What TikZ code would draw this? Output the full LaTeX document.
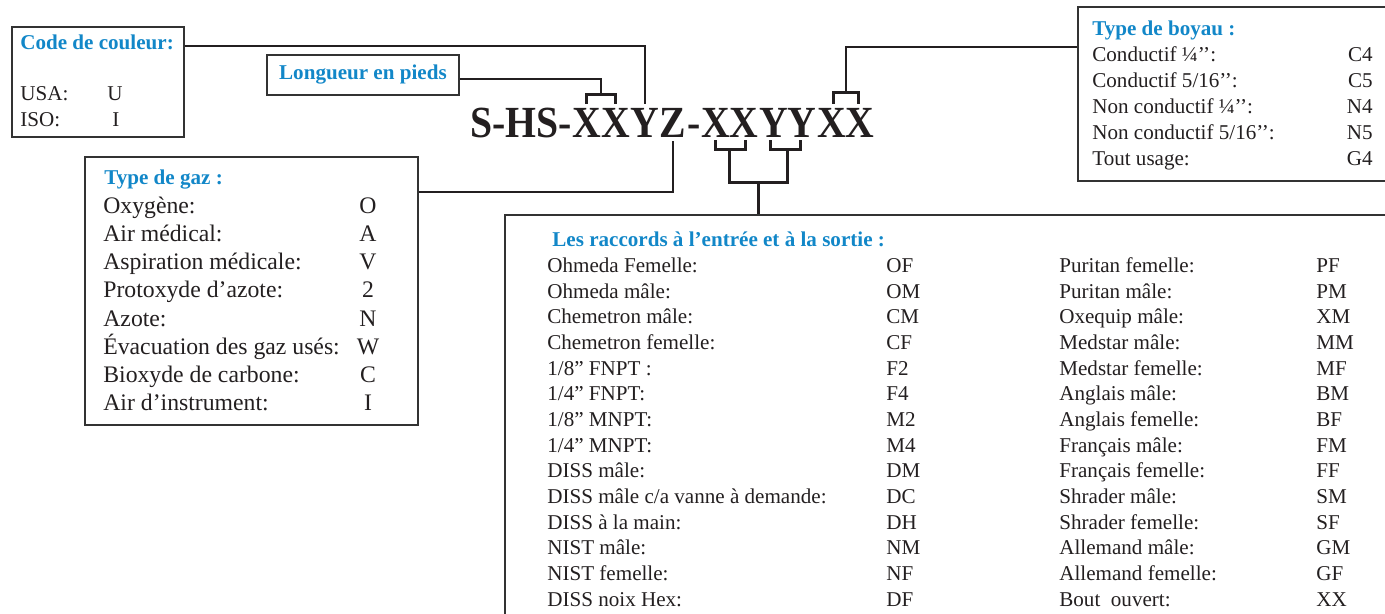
\documentclass[tikz,border=0pt]{standalone}
\usepackage{fontspec}
\setmainfont{Liberation Serif}
\usetikzlibrary{calc,positioning}
\definecolor{hdblue}{HTML}{1287C8}
\definecolor{boxgrey}{HTML}{333333}
\definecolor{inkblack}{HTML}{231F20}
\newcommand{\grandcode}[1]{\scalebox{1}[1.12]{#1}}
\tikzset{
  cadre/.style={draw=boxgrey, line width=1.1pt, anchor=north west, inner sep=0pt},
  titre/.style={font=\fontsize{12}{14}\selectfont\bfseries, text=hdblue, anchor=base west, inner sep=0pt},
  txt/.style={font=\fontsize{12}{14}\selectfont, text=inkblack, anchor=base west, inner sep=0pt},
  gaztxt/.style={txt, font=\fontsize{13.5}{16}\selectfont},
  codepart/.style={font=\fontsize{22.6}{26}\selectfont\bfseries, text=inkblack, anchor=base west, inner sep=0pt},
  conn/.style={line width=1.1pt, draw=inkblack},
  brk/.style={line width=1.6pt, draw=inkblack},
}
\begin{document}
\begin{tikzpicture}[x=0.02cm, y=-0.02cm]
  \useasboundingbox (0,0) rectangle (1385,613);
  \clip (0,0) rectangle (1385,613);

  % Boxes
  \node[cadre, minimum width=3.44cm, minimum height=2.2cm] (couleur) at (11,26) {};
  \node[cadre, minimum width=3.84cm, minimum height=0.8cm,
        font=\fontsize{12}{14}\selectfont\bfseries, text=hdblue] (longueur) at (266,54) {Longueur en pieds};
  \node[cadre, minimum width=6.66cm, minimum height=5.36cm] (gaz) at (84,156) {};
  \node[cadre, minimum width=6.6cm, minimum height=3.48cm] (boyau) at (1077,6) {};
  \node[cadre, minimum width=18cm, minimum height=9cm] (raccords) at (504,214) {};

  % Part number
  \node[codepart] (c0) at (470,137) {\grandcode{S-HS-}};
  \node[codepart] (x1) at (c0.base east) {\grandcode{XX}};
  \node[codepart] (y1) at (x1.base east) {\grandcode{Y}};
  \node[codepart] (z1) at (y1.base east) {\grandcode{Z}};
  \node[codepart] (c1) at (z1.base east) {\grandcode{-}};
  \node[codepart] (x2) at (c1.base east) {\grandcode{XX}};
  \node[codepart] (y2) at (x2.base east) {\grandcode{YY}};
  \node[codepart] (x3) at (y2.base east) {\grandcode{XX}};

  % Code de couleur -> Y
  \draw[conn] ($(couleur.north east)+(0,20)$) -| ($(y1.north)+(0,-4)$);
  % Longueur -> XX
  \draw[brk] ($(x1.north west)!0.25!(x1.north east)+(0,-4)$) |- ($(x1.north)+(0,-13)$)
             -| ($(x1.north west)!0.75!(x1.north east)+(0,-4)$);
  \draw[conn] ($(longueur.east)+(0,4)$) -| ($(x1.north)+(0,-13)$);
  % Z -> type de gaz
  \draw[conn] ($(z1.south)+(0,4)$) |- ($(gaz.north east)+(0,36)$);
  % last XX -> type de boyau
  \draw[brk] ($(x3.north west)!0.28!(x3.north east)+(0,-4)$) |- ($(x3.north)+(0,-15)$)
             -| ($(x3.north west)!0.72!(x3.north east)+(0,-4)$);
  \draw[conn] ($(x3.north)+(0,-15)$) |- ($(boyau.north west)+(0,41)$);
  % XX and YY -> raccords
  \draw[brk] ($(x2.south west)!0.25!(x2.south east)+(0,3)$) |- ($(x2.south)+(0,12)$)
             -| ($(x2.south west)!0.77!(x2.south east)+(0,3)$);
  \draw[brk] ($(y2.south west)!0.2!(y2.south east)+(0,3)$) |- ($(y2.south)+(0,12)$)
             -| ($(y2.south west)!0.72!(y2.south east)+(0,3)$);
  \draw[brk] ($(x2.south)+(0,12)$) |- ($(y2.south)+(0,45)$) -- ($(y2.south)+(0,12)$);
  \coordinate (jonction) at ($(x2.south)!0.5!(y2.south)+(0,45)$);
  \draw[brk] (jonction) -- (jonction |- raccords.north);

  % Code de couleur
  \node[titre] (tcouleur) at (20,49) {Code de couleur:};
  \node[txt] (usa) at (20,100) {USA:};
  \node[txt] (usac) at (107,100) {U};
  \node[txt] (iso) at (20,126) {ISO:};
  \node[txt] (isoc) at (112,126) {I};

  % Type de gaz
  \node[titre] (tgaz) at (104,184) {Type de gaz :};
  \foreach \lbl/\cd [count=\i from 0] in {Oxygène:/O, Air médical:/A, Aspiration médicale:/V,
      Protoxyde d’azote:/2, Azote:/N, Évacuation des gaz usés:/W, Bioxyde de carbone:/C,
      Air d’instrument:/I} {
    \node[gaztxt] (g\i) at (103,213.3+28.2*\i) {\lbl};
    \node[gaztxt, anchor=base] (gc\i) at (368,213.3+28.2*\i) {\cd};
  }

  % Type de boyau
  \node[titre] (tboyau) at (1092,35.7) {Type de boyau :};
  \foreach \lbl/\cd [count=\i from 0] in {Conductif ¼’’:/C4, {Conductif 5/16’’:}/C5,
      Non conductif ¼’’:/N4, {Non conductif 5/16’’:}/N5, Tout usage:/G4} {
    \node[txt] (b\i) at (1092,61.7+26*\i) {\lbl};
    \node[txt, anchor=base east] (bc\i) at (1373,61.7+26*\i) {\cd};
  }

  % Raccords
  \node[titre] (traccords) at (552,246) {Les raccords à l’entrée et à la sortie :};
  \foreach \lbl/\cd [count=\i from 0] in {Ohmeda Femelle:/OF, Ohmeda mâle:/OM,
      Chemetron mâle:/CM, Chemetron femelle:/CF, {1/8” FNPT :}/F2, {1/4” FNPT:}/F4,
      {1/8” MNPT:}/M2, {1/4” MNPT:}/M4, DISS mâle:/DM, {DISS mâle c/a vanne à demande:}/DC,
      DISS à la main:/DH, NIST mâle:/NM, NIST femelle:/NF, DISS noix Hex:/DF} {
    \node[txt] (ra\i) at (547,272.7+25.64*\i) {\lbl};
    \node[txt] (rac\i) at (886,272.7+25.64*\i) {\cd};
  }
  \foreach \lbl/\cd [count=\i from 0] in {Puritan femelle:/PF, Puritan mâle:/PM,
      Oxequip mâle:/XM, Medstar mâle:/MM, Medstar femelle:/MF, Anglais mâle:/BM,
      Anglais femelle:/BF, Français mâle:/FM, Français femelle:/FF, Shrader mâle:/SM,
      Shrader femelle:/SF, Allemand mâle:/GM, Allemand femelle:/GF, Bout~ ouvert:/XX} {
    \node[txt] (rb\i) at (1059,272.7+25.64*\i) {\lbl};
    \node[txt] (rbc\i) at (1316,272.7+25.64*\i) {\cd};
  }
\end{tikzpicture}
\end{document}
